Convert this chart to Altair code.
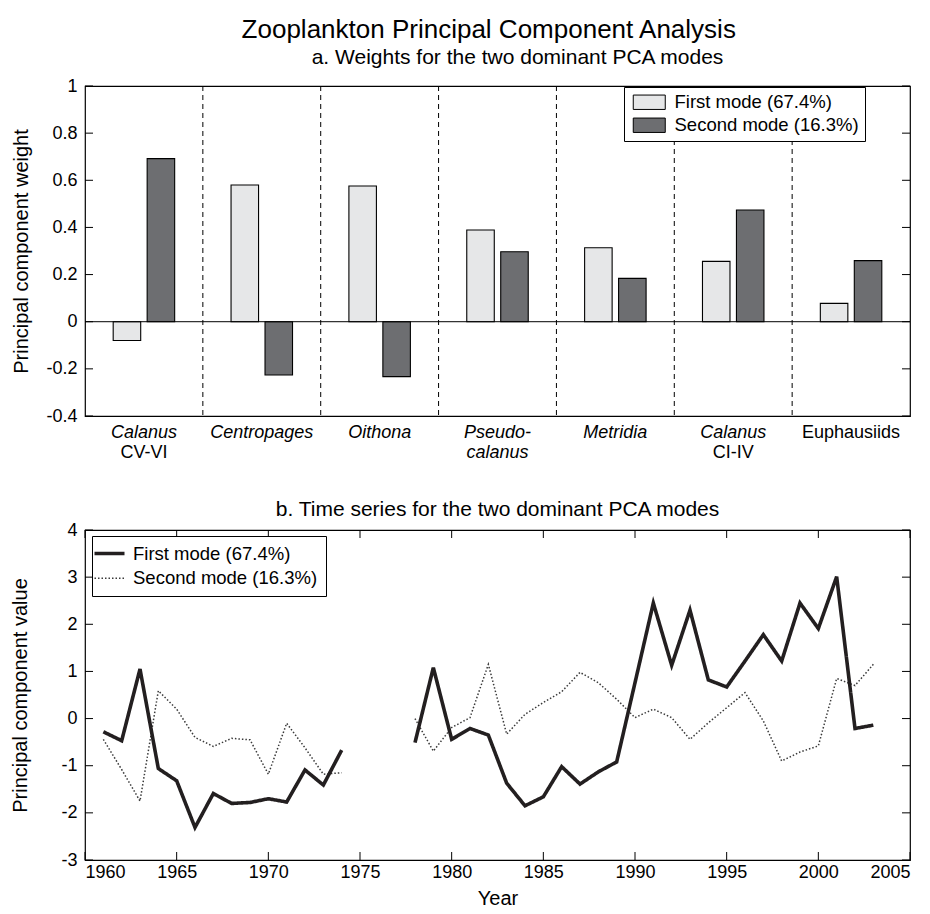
import altair as alt
import pandas as pd

# ---------------- data ----------------
categories = ["Calanus CV-VI", "Centropages", "Oithona", "Pseudocalanus",
              "Metridia", "Calanus CI-IV", "Euphausiids"]
label_line1 = ["Calanus", "Centropages", "Oithona", "Pseudo-", "Metridia", "Calanus", "Euphausiids"]
label_line1_italic = [True, True, True, True, True, True, False]
label_line2 = ["CV-VI", "", "", "calanus", "", "CI-IV", ""]
label_line2_italic = [False, False, False, True, False, False, False]

mode_names = ["First mode (67.4%)", "Second mode (16.3%)"]
first_mode_weights = [-0.08, 0.58, 0.576, 0.389, 0.314, 0.256, 0.078]
second_mode_weights = [0.692, -0.226, -0.233, 0.297, 0.184, 0.474, 0.259]

years_early = list(range(1961, 1975))
first_early = [-0.28, -0.47, 1.05, -1.06, -1.32, -2.31, -1.59, -1.80, -1.78, -1.70,
               -1.77, -1.09, -1.41, -0.67]
second_early = [-0.44, -1.08, -1.75, 0.59, 0.20, -0.40, -0.59, -0.42, -0.45, -1.18,
                -0.10, -0.62, -1.18, -1.15]
years_late = list(range(1978, 2004))
first_late = [-0.51, 1.08, -0.44, -0.21, -0.35, -1.37, -1.85, -1.66, -1.02, -1.39,
              -1.13, -0.92, 0.76, 2.45, 1.13, 2.30, 0.82, 0.67, 1.22, 1.78,
              1.22, 2.45, 1.91, 3.01, -0.21, -0.14]
second_late = [0.00, -0.69, -0.19, 0.02, 1.15, -0.33, 0.09, 0.34, 0.57, 0.98,
               0.76, 0.41, 0.02, 0.20, 0.02, -0.44, -0.09, 0.23, 0.55, -0.05,
               -0.90, -0.71, -0.58, 0.85, 0.70, 1.15]

weight_ticks = [-0.4, -0.2, 0, 0.2, 0.4, 0.6, 0.8, 1.0]
value_ticks = [-3, -2, -1, 0, 1, 2, 3, 4]
year_ticks = [1960, 1965, 1970, 1975, 1980, 1985, 1990, 1995, 2000, 2005]

# ---------------- tables ----------------
bar_rows = []
for c, f, s in zip(categories, first_mode_weights, second_mode_weights):
    bar_rows.append({"cat": c, "mode": mode_names[0], "w": f})
    bar_rows.append({"cat": c, "mode": mode_names[1], "w": s})
bars_df = pd.DataFrame(bar_rows)
labels_df = pd.DataFrame({"cat": categories, "l1": label_line1, "i1": label_line1_italic,
                          "l2": label_line2, "i2": label_line2_italic})
bounds_df = pd.DataFrame({"cat": categories[1:]})
wt_df = pd.DataFrame({"v": weight_ticks})
vt_df = pd.DataFrame({"v": value_ticks})
yt_df = pd.DataFrame({"v": year_ticks})

ts_rows = []
for seg, yrs, f, s in [("early", years_early, first_early, second_early),
                       ("late", years_late, first_late, second_late)]:
    for y, v in zip(yrs, s):
        ts_rows.append({"year": y, "mode": mode_names[1], "value": v, "seg": seg})
    for y, v in zip(yrs, f):
        ts_rows.append({"year": y, "mode": mode_names[0], "value": v, "seg": seg})
ts_df = pd.DataFrame(ts_rows)

W, H = 825, 330
FONT = "Liberation Sans"
TICK = 8
MINUS_FIX = "replace(format(datum.value, '~g'), '\u2212', '-')"
EM = "\u2003"

# ---------------- panel a ----------------
cat_scale = alt.Scale(domain=categories, paddingInner=0, paddingOuter=0)
y_a = alt.Y("w:Q", scale=alt.Scale(domain=[-0.4, 1.0], nice=False),
            axis=alt.Axis(values=weight_ticks, labelExpr=MINUS_FIX, ticks=False, grid=False,
                          domain=False, labelFontSize=18, labelPadding=8,
                          title="Principal component weight", titleFontSize=20,
                          titlePadding=14))

bars = alt.Chart(bars_df).mark_bar(stroke="black", strokeWidth=1.1).encode(
    x=alt.X("cat:N", scale=cat_scale, sort=categories, axis=None),
    xOffset=alt.XOffset("mode:N", sort=mode_names,
                        scale=alt.Scale(domain=mode_names, paddingInner=0.19, paddingOuter=0.83)),
    y=y_a,
    fill=alt.Fill("mode:N", scale=alt.Scale(domain=mode_names, range=["#e6e7e8", "#6d6e71"]),
                  legend=alt.Legend(title=None, orient="none", legendX=539, legendY=1,
                                    strokeColor="black", fillColor="white", padding=6,
                                    symbolType="M-0.75,-0.9H3.25V0.9H-0.75Z", symbolSize=256,
                                    symbolStrokeColor="black", symbolStrokeWidth=1,
                                    labelFontSize=18.5, labelOffset=26, rowPadding=4,
                                    labelLimit=400, labelFont=FONT,
                                    labelExpr=f"datum.label + '{EM}'")),
)

dividers = alt.Chart(bounds_df).mark_rule(color="black", strokeWidth=1, strokeDash=[5, 4]).encode(
    x=alt.X("cat:N", scale=cat_scale, sort=categories, bandPosition=0, axis=None)
)
zero_line = alt.Chart(pd.DataFrame({"w": [0]})).mark_rule(color="black", strokeWidth=1).encode(
    y=alt.Y("w:Q")
)
ticks_a_left = alt.Chart(wt_df).mark_rule(color="black", strokeWidth=1).encode(
    y=alt.Y("v:Q"), x=alt.value(0), x2=alt.value(TICK))
ticks_a_right = alt.Chart(wt_df).mark_rule(color="black", strokeWidth=1).encode(
    y=alt.Y("v:Q"), x=alt.value(W - TICK), x2=alt.value(W))

def cat_text(field, flag, italic, ypos):
    return alt.Chart(labels_df).transform_filter(
        f"datum.{flag} == {'true' if italic else 'false'}"
    ).mark_text(font=FONT, fontSize=18, fontStyle="italic" if italic else "normal",
                baseline="middle", color="black").encode(
        x=alt.X("cat:N", scale=cat_scale, sort=categories, axis=None),
        y=alt.value(ypos),
        text=f"{field}:N",
    )

labels = [cat_text("l1", "i1", True, H + 17), cat_text("l1", "i1", False, H + 17),
          cat_text("l2", "i2", True, H + 37), cat_text("l2", "i2", False, H + 37)]

panel_a = alt.layer(dividers, bars, zero_line, ticks_a_left, ticks_a_right, *labels).properties(
    width=W, height=H,
    title=alt.TitleParams("a. Weights for the two dominant PCA modes", fontSize=21,
                          anchor="middle", frame="group", dx=20, offset=9),
)

# ---------------- panel b ----------------
x_b = alt.X("year:Q", scale=alt.Scale(domain=[1960, 2005], nice=False, zero=False),
            axis=alt.Axis(values=year_ticks, format="d", ticks=False, grid=False, domain=False,
                          labelFontSize=18, labelPadding=3, title="Year", titleFontSize=20,
                          titlePadding=7))
y_b = alt.Y("value:Q", scale=alt.Scale(domain=[-3, 4], nice=False),
            axis=alt.Axis(values=value_ticks, labelExpr=MINUS_FIX, ticks=False, grid=False,
                          domain=False, labelFontSize=18, labelPadding=8,
                          title="Principal component value", titleFontSize=20, titlePadding=30))

lines = alt.Chart(ts_df).mark_line(strokeCap="butt", strokeJoin="miter").encode(
    x=x_b, y=y_b,
    detail="seg:N",
    color=alt.Color("mode:N", scale=alt.Scale(domain=mode_names, range=["#231f20", "#3a3a3a"]),
                    legend=alt.Legend(title=None, orient="none", legendX=7, legendY=6,
                                      strokeColor="black", fillColor="white", padding=8,
                                      symbolType="M-2,0H2", symbolSize=225,
                                      labelFontSize=18.5, labelOffset=14, rowPadding=6,
                                      labelLimit=400, labelFont=FONT)),
    strokeDash=alt.StrokeDash("mode:N", scale=alt.Scale(domain=mode_names, range=[[1, 0], [1.5, 2]])),
    strokeWidth=alt.StrokeWidth("mode:N", scale=alt.Scale(domain=mode_names, range=[3.6, 1.5])),
    order=alt.Order("year:Q"),
)

ticks_b_left = alt.Chart(vt_df).mark_rule(color="black", strokeWidth=1).encode(
    y=alt.Y("v:Q"), x=alt.value(0), x2=alt.value(TICK))
ticks_b_right = alt.Chart(vt_df).mark_rule(color="black", strokeWidth=1).encode(
    y=alt.Y("v:Q"), x=alt.value(W - TICK), x2=alt.value(W))
ticks_b_bottom = alt.Chart(yt_df).mark_rule(color="black", strokeWidth=1).encode(
    x=alt.X("v:Q"), y=alt.value(H - TICK), y2=alt.value(H))
ticks_b_top = alt.Chart(yt_df).mark_rule(color="black", strokeWidth=1).encode(
    x=alt.X("v:Q"), y=alt.value(0), y2=alt.value(TICK))

panel_b = alt.layer(lines, ticks_b_left, ticks_b_right, ticks_b_bottom, ticks_b_top).properties(
    width=W, height=H,
    title=alt.TitleParams("b. Time series for the two dominant PCA modes", fontSize=21,
                          anchor="middle", frame="group", offset=1),
)

chart = alt.vconcat(panel_a, panel_b, spacing=35).resolve_scale(
    color="independent", fill="independent", strokeDash="independent", strokeWidth="independent"
).properties(
    title=alt.TitleParams("Zooplankton Principal Component Analysis", fontSize=26,
                          anchor="middle", dx=28, offset=3),
    padding={"left": 2, "top": 9, "right": 5, "bottom": 5},
).configure_view(stroke="black", strokeWidth=1.2).configure_axis(
    labelFont=FONT, titleFont=FONT, labelColor="black", titleColor="black",
    titleFontWeight="normal"
).configure_title(font=FONT, fontWeight="normal", color="black").configure_legend(
    labelFont=FONT, labelColor="black"
)

chart.save("out.html", embed_options={"renderer": "svg", "actions": False})
